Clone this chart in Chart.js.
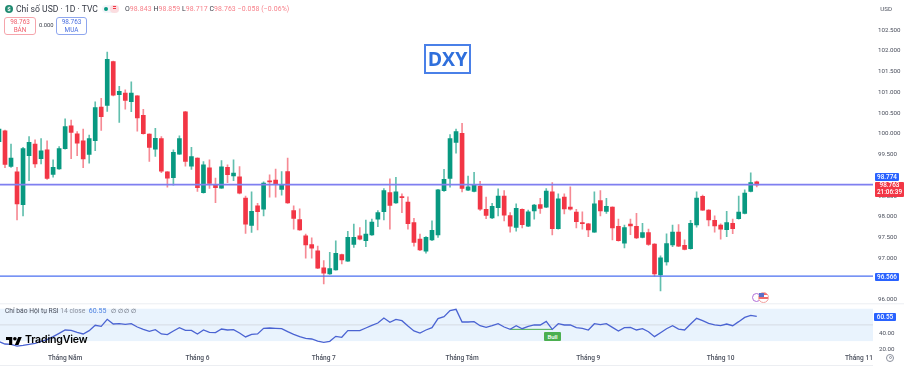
<!DOCTYPE html>
<html>
<head>
<meta charset="utf-8">
<title>DXY</title>
<script src="https://cdn.jsdelivr.net/npm/chart.js@4"></script>
<style>
  html, body { margin: 0; padding: 0; background: #fff; }
  body { width: 904px; height: 367px; overflow: hidden; position: relative; font-family: Roboto, sans-serif; }
  #wrap { position: absolute; left: 0; top: 0; width: 904px; height: 367px; }
  .t { position: absolute; white-space: nowrap; line-height: 1; }
  .box { position: absolute; box-sizing: border-box; text-align: center; }
  .tag { position: absolute; color: #fff; font-weight: 500; font-size: 6.4px; text-align: center; line-height: 8px; border-radius: 1px; }
</style>
</head>
<body>
<div id="wrap"><canvas id="dxyChart" width="904" height="367"></canvas></div>

<!-- header -->
<div class="box" style="left:5px;top:5px;width:8px;height:8px;border-radius:50%;background:#1f8a70;color:#fff;font-size:6px;line-height:8px;font-weight:700">$</div>
<div class="t" style="left:16px;top:4.5px;font-size:8.6px;color:#363a45">Chỉ số USD · 1D · TVC</div>
<div class="box" style="left:102px;top:5px;width:17px;height:8px;border-radius:4px;background:#f3f5f9"></div>
<div class="box" style="left:104px;top:7px;width:4px;height:4px;border-radius:50%;background:#089981"></div>
<div class="box" style="left:110px;top:5px;width:9px;height:8px;border-radius:4px;background:#fbdde0;color:#f23645;font-size:7px;line-height:7px;font-weight:700">=</div>
<div class="t" style="left:125px;top:5.5px;font-size:6.9px;color:#f7808a;letter-spacing:.1px"><span style="color:#363a45">O</span>98.843 <span style="color:#363a45">H</span>98.859 <span style="color:#363a45">L</span>98.717 <span style="color:#363a45">C</span>98.763 −0.058 (−0.06%)</div>

<div class="box" style="left:4px;top:17px;width:32px;height:18px;border:1px solid #f5a5ac;border-radius:3px;color:#f0606c;font-size:6.4px;line-height:7.5px;padding-top:1px">98.763<br>BÁN</div>
<div class="t" style="left:39px;top:22.5px;font-size:5.8px;color:#363a45">0.000</div>
<div class="box" style="left:56px;top:17px;width:31px;height:18px;border:1px solid #8ea6ee;border-radius:3px;color:#4a6fe0;font-size:6.4px;line-height:7.5px;padding-top:1px">98.763<br>MUA</div>

<div class="t" style="right:12px;top:6px;font-size:6.2px;color:#4a4f5c">USD</div>

<!-- DXY tag -->
<div class="box" style="left:424px;top:44px;width:47px;height:30px;border:2px solid #4a80e8;color:#2f6fdc;font-size:19.5px;font-weight:700;line-height:26px;font-family:'Open Sans',sans-serif">DXY</div>

<!-- event icons -->
<div class="box" style="left:752px;top:292.5px;width:9px;height:9px;border:1px solid #b06fd8;border-radius:50%;background:#fff"></div>
<div class="box" style="left:758px;top:291.5px;width:11px;height:11px;border:1px solid #f2a09e;border-radius:50%;background:linear-gradient(#f26a6a 0 25%,#fff 25% 45%,#f26a6a 45% 65%,#fff 65%)"></div>
<div class="box" style="left:759px;top:293px;width:5px;height:4px;background:#5a6fc8"></div>

<!-- price labels -->
<div class="tag" style="left:875px;top:172.5px;width:24px;height:8.5px;background:#2962ff">98.774</div>
<div class="tag" style="left:875px;top:181.5px;width:29px;height:15px;background:#f23645;line-height:7.2px;padding-top:.5px;box-sizing:border-box">98.763<br>21:06:39</div>
<div class="tag" style="left:875px;top:272.5px;width:24px;height:8.5px;background:#2962ff">96.566</div>
<div class="tag" style="left:874px;top:312.5px;width:22px;height:8.5px;background:#2962ff">60.55</div>

<!-- RSI legend -->
<div class="t" style="left:5px;top:307.5px;font-size:6.7px;color:#4a4f5c">Chỉ báo Hội tụ RSI <span style="color:#8a8f9c">14 close</span> <span style="color:#4a7fe0;font-size:7px">&nbsp;60.55</span> <span style="letter-spacing:1.6px;font-size:6.4px">&nbsp;∅∅∅∅</span></div>

<!-- Bull label -->
<div class="box" style="left:544px;top:331.5px;width:17px;height:9.5px;background:#4caf50;border-radius:1px;color:#fff;font-size:6px;line-height:9.5px;font-weight:500">Bull</div>

<!-- logo -->
<svg style="position:absolute;left:6px;top:336.5px" width="16" height="8" viewBox="0 4 36 18"><path d="M14 22H7V11H0V4h14v18zM28 22h-8l7.5-18h8L28 22z" fill="#000"/><circle cx="20" cy="8" r="4" fill="#000"/></svg>
<div class="t" style="left:25px;top:335px;font-size:10.6px;font-weight:600;color:#000;font-family:Inter,sans-serif;letter-spacing:-.2px">TradingView</div>

<!-- axis corner, hides the lower half of the last tick label like the reference -->
<div class="box" style="left:873px;top:351px;width:31px;height:16px;background:#fff"></div>
<div class="box" style="left:886px;top:353.5px;width:8px;height:8px;border:1px solid #8a8f9c;border-radius:50%"></div>
<div class="box" style="left:888.5px;top:356px;width:3px;height:3px;border:1px solid #8a8f9c;border-radius:50%"></div>

<script>
// candles, oldest first. first one is half cut by the left edge
const opens = [
  99.81,100.07,99.21,99.08,98.29,99.47,99.75,99.40,99.61,99.02,
  99.15,99.64,100.19,100.00,99.83,99.50,99.83,100.64,100.68,101.74,
  100.94,100.98,100.77,100.91,100.44,99.99,99.63,99.88,99.08,98.94,
  99.51,100.53,99.22,99.41,98.58,99.18,98.78,98.69,99.19,98.98,
  98.96,98.45,97.79,98.26,98.18,98.86,98.88,98.66,99.09,98.15,
  97.93,97.54,97.33,97.18,96.77,96.62,96.72,97.09,96.93,97.33,
  97.54,97.42,97.56,97.94,98.12,98.58,98.33,98.48,98.35,97.86,
  97.46,97.17,97.44,97.56,98.63,98.92,99.79,100.01,98.64,98.61,
  98.74,98.18,97.97,98.22,98.50,98.03,97.74,98.18,97.77,98.14,
  98.29,98.23,98.60,97.71,98.47,98.23,98.11,97.86,97.83,97.63,
  98.39,98.13,98.23,97.77,97.36,97.82,97.77,97.50,97.62,97.34,
  96.60,96.91,97.32,97.63,97.31,97.23,97.80,98.49,98.16,97.91,
  97.80,97.69,97.84,97.95,98.08,98.61,98.843
];
const highs = [
  100.15,100.09,99.75,99.19,99.67,99.93,99.85,99.88,99.83,99.37,
  99.69,100.36,100.33,100.05,100.11,99.97,100.77,100.85,101.97,101.75,
  101.14,101.06,101.25,100.92,100.59,100.00,100.13,99.93,99.09,99.61,
  99.95,100.54,99.67,99.42,99.33,99.37,98.93,99.35,99.25,99.37,
  99.21,98.50,98.60,98.32,98.84,99.01,99.15,99.09,99.41,98.26,
  98.19,97.58,97.49,97.29,96.94,97.14,97.42,97.10,97.65,97.82,
  97.74,97.92,97.94,98.15,98.68,98.91,98.95,98.55,98.48,97.96,
  97.58,97.52,97.90,98.66,99.14,99.98,100.11,100.25,98.98,99.07,
  98.85,98.47,98.32,98.67,98.63,98.10,98.31,98.19,98.16,98.30,
  98.44,98.68,98.82,98.55,98.55,98.72,98.18,98.12,97.84,98.60,
  98.63,98.44,98.24,97.94,97.80,97.94,98.08,97.84,97.70,97.35,
  97.06,97.59,97.80,97.81,97.44,97.91,98.60,98.52,98.17,98.02,
  97.83,98.13,97.94,98.50,98.65,99.06,98.859
];
const lows = [
  99.75,99.18,99.19,97.92,98.02,98.87,99.19,99.27,98.90,98.95,
  99.14,99.63,99.40,99.47,99.18,99.29,99.59,100.08,100.54,100.91,
  100.27,100.59,100.53,100.06,99.99,99.33,99.45,99.06,98.71,98.76,
  99.50,99.22,99.14,98.61,98.57,98.68,98.34,98.68,98.82,98.87,
  98.55,97.60,97.62,97.68,98.02,98.47,98.47,98.52,98.32,97.70,
  97.67,97.00,97.00,96.75,96.38,96.61,96.71,96.86,96.92,97.26,
  97.44,97.28,97.55,97.76,97.92,97.70,98.32,98.10,97.70,97.29,
  97.18,97.12,97.42,97.50,98.61,98.71,99.53,98.60,98.63,98.60,
  98.15,97.95,97.95,98.02,97.90,97.63,97.65,97.73,97.76,97.94,
  98.08,98.22,97.56,97.70,98.07,98.16,97.73,97.70,97.52,97.62,
  98.02,98.08,97.44,97.41,97.25,97.57,97.47,97.49,97.31,96.57,
  96.21,96.83,97.28,97.28,97.20,97.22,97.75,98.15,97.78,97.63,
  97.46,97.52,97.59,97.94,98.07,98.60,98.717
];
const closes = [
  100.11,99.26,99.41,98.31,99.64,99.79,99.27,99.59,98.92,99.19,
  99.64,100.17,100.03,99.77,99.39,99.88,100.63,100.41,101.79,100.93,
  101.02,100.80,100.98,100.38,100.00,99.67,99.89,99.10,98.93,99.55,
  99.88,99.33,99.45,98.70,99.25,98.80,98.70,99.20,99.01,99.05,
  98.57,97.82,98.13,98.12,98.81,98.84,98.77,98.76,98.33,97.96,
  97.68,97.32,97.24,96.76,96.64,96.75,97.12,96.96,97.50,97.50,
  97.46,97.58,97.87,98.10,98.63,98.27,98.60,98.46,97.83,97.38,
  97.20,97.50,97.67,98.65,98.90,99.88,100.05,98.68,98.72,98.76,
  98.18,98.03,98.25,98.50,98.04,97.77,98.20,97.81,98.12,98.28,
  98.20,98.62,97.71,98.43,98.19,98.18,97.88,97.83,97.68,98.31,
  98.14,98.25,97.73,97.42,97.74,97.78,97.49,97.62,97.33,96.62,
  97.01,97.35,97.63,97.29,97.21,97.84,98.45,98.16,97.92,97.78,
  97.70,97.86,97.71,98.11,98.57,98.82,98.763
];
const rsiValues = [
  29.3,26.4,26.0,23.9,24.8,26.0,27.2,29.7,31.8,35.5,
  39.6,43.7,43.3,40.8,38.8,42.9,49.5,48.2,56.9,51.1,
  51.5,50.7,51.5,47.4,44.5,42.1,44.1,38.8,38.0,42.5,
  46.6,43.3,43.3,38.8,43.7,40.8,40.4,44.9,43.7,44.1,
  40.0,35.1,38.4,38.8,45.8,46.2,45.8,45.3,41.6,38.4,
  35.5,33.4,32.6,30.1,28.5,29.7,35.9,34.7,42.9,42.9,
  42.9,46.2,49.5,52.3,58.5,53.2,56.9,55.2,48.6,42.5,
  40.0,43.7,46.6,57.7,60.2,67.6,69.2,53.6,53.6,54.0,
  49.0,47.0,49.0,51.5,47.4,44.5,49.0,45.3,48.2,49.9,
  49.9,54.4,44.5,51.5,49.9,49.9,46.6,45.8,43.7,51.5,
  50.3,51.5,47.0,42.5,46.6,47.0,43.7,45.3,41.6,35.5,
  40.4,45.3,49.0,44.9,43.7,51.1,58.1,55.2,51.9,49.9,
  49.0,51.1,49.0,54.0,59.3,61.8,60.55
];

// trading day index of the first session of each month
const monthIndex = [11, 33, 54, 77, 98, 120, 143];
const monthLabels = ['Tháng Năm', 'Tháng 6', 'Tháng 7', 'Tháng Tám', 'Tháng 9', 'Tháng 10', 'Tháng 11'];

const priceTicks = [96, 96.5, 97, 97.5, 98, 98.5, 99, 99.5, 100, 100.5, 101, 101.5, 102, 102.5];
const rsiTicks = [20, 40];
const resistance = 98.774;
const support = 96.566;
const bullFrom = 85, bullTo = 92, bullLevel = 44.5;

const xMin = 0.169, xMax = 145.33;
const GREEN = '#089981', RED = '#f23645';
const GREEN_WICK = '#62bfae', RED_WICK = '#f68a94';

const candleColor = opens.map((o, i) => closes[i] >= o ? GREEN : RED);
const wickColor = opens.map((o, i) => closes[i] >= o ? GREEN_WICK : RED_WICK);

// band behind the rsi line and the pane separators
const panePlugin = {
  id: 'panes',
  beforeDatasetsDraw(chart) {
    const { ctx, chartArea, scales } = chart;
    const r = scales.rsi;
    const top = r.getPixelForValue(70), bottom = r.getPixelForValue(30), mid = r.getPixelForValue(50);
    ctx.save();
    ctx.fillStyle = '#e9f3fd';
    ctx.fillRect(0, top, chartArea.right, bottom - top);
    ctx.strokeStyle = '#d5dbe3';
    ctx.lineWidth = 1;
    ctx.beginPath();
    ctx.moveTo(0, mid);
    ctx.lineTo(chartArea.right, mid);
    ctx.stroke();
    ctx.strokeStyle = '#eceef2';
    ctx.beginPath();
    ctx.moveTo(0, r.top - 0.5);
    ctx.lineTo(chart.width, r.top - 0.5);
    ctx.moveTo(0, 365.5);
    ctx.lineTo(chart.width, 365.5);
    ctx.stroke();
    ctx.restore();
  }
};

new Chart(document.getElementById('dxyChart').getContext('2d'), {
  type: 'bar',
  data: {
    datasets: [
      {
        label: 'Kháng cự',
        type: 'line',
        data: [{ x: xMin, y: resistance }, { x: xMax, y: resistance }],
        borderColor: '#7f7ff0',
        borderWidth: 1.6,
        pointRadius: 0,
        order: 1
      },
      {
        label: 'Hỗ trợ',
        type: 'line',
        data: [{ x: xMin, y: support }, { x: xMax, y: support }],
        borderColor: '#4a6ff0',
        borderWidth: 1.2,
        pointRadius: 0,
        order: 1
      },
      {
        label: 'Thân nến',
        data: opens.map((o, i) => ({ x: i, y: [o, closes[i]] })),
        backgroundColor: candleColor,
        barThickness: 4,
        minBarLength: 1,
        grouped: false,
        order: 2
      },
      {
        label: 'Bóng nến',
        data: lows.map((l, i) => ({ x: i, y: [l, highs[i]] })),
        backgroundColor: wickColor,
        barThickness: 1,
        grouped: false,
        order: 3
      },
      {
        label: 'RSI',
        type: 'line',
        yAxisID: 'rsi',
        data: rsiValues.map((v, i) => ({ x: i, y: v })),
        borderColor: '#4a63d2',
        borderWidth: 1.3,
        pointRadius: 0,
        tension: 0,
        order: 0
      },
      {
        label: 'Bull',
        type: 'line',
        yAxisID: 'rsi',
        data: [{ x: bullFrom, y: bullLevel }, { x: bullTo, y: bullLevel }],
        borderColor: '#4caf50',
        borderWidth: 1,
        pointRadius: 0,
        order: 1
      }
    ]
  },
  options: {
    responsive: false,
    animation: false,
    layout: { padding: 0, autoPadding: false },
    plugins: { legend: { display: false }, tooltip: { enabled: false } },
    scales: {
      x: {
        type: 'linear',
        offset: false,
        min: xMin,
        max: xMax,
        grid: { display: false, drawTicks: false },
        border: { display: false },
        afterBuildTicks: s => { s.ticks = monthIndex.map(v => ({ value: v })); },
        afterFit: s => { s.height = 17; },
        ticks: {
          autoSkip: false,
          maxRotation: 0,
          padding: 4,
          color: '#4a4f5c',
          font: { family: 'Roboto', size: 6.6, weight: '500' },
          callback: v => monthLabels[monthIndex.indexOf(v)]
        }
      },
      y: {
        position: 'right',
        stack: 'panes',
        stackWeight: 303,
        weight: 1,
        min: 95.889,
        max: 102.988,
        grid: { display: false, drawTicks: false },
        border: { display: false },
        afterBuildTicks: s => { s.ticks = priceTicks.map(v => ({ value: v })); },
        afterFit: s => { s.width = 31; },
        ticks: {
          padding: 5,
          color: '#4a4f5c',
          font: { family: 'Roboto', size: 6.2 },
          callback: v => v.toFixed(3)
        }
      },
      rsi: {
        position: 'right',
        stack: 'panes',
        stackWeight: 47,
        weight: 2,
        min: 19.01,
        max: 75.43,
        grid: { display: false, drawTicks: false },
        border: { display: false },
        afterBuildTicks: s => { s.ticks = rsiTicks.map(v => ({ value: v })); },
        afterFit: s => { s.width = 31; },
        ticks: {
          padding: 6,
          color: '#4a4f5c',
          font: { family: 'Roboto', size: 6.2 },
          callback: v => v.toFixed(2)
        }
      }
    }
  },
  plugins: [panePlugin]
});
</script>
</body>
</html>
